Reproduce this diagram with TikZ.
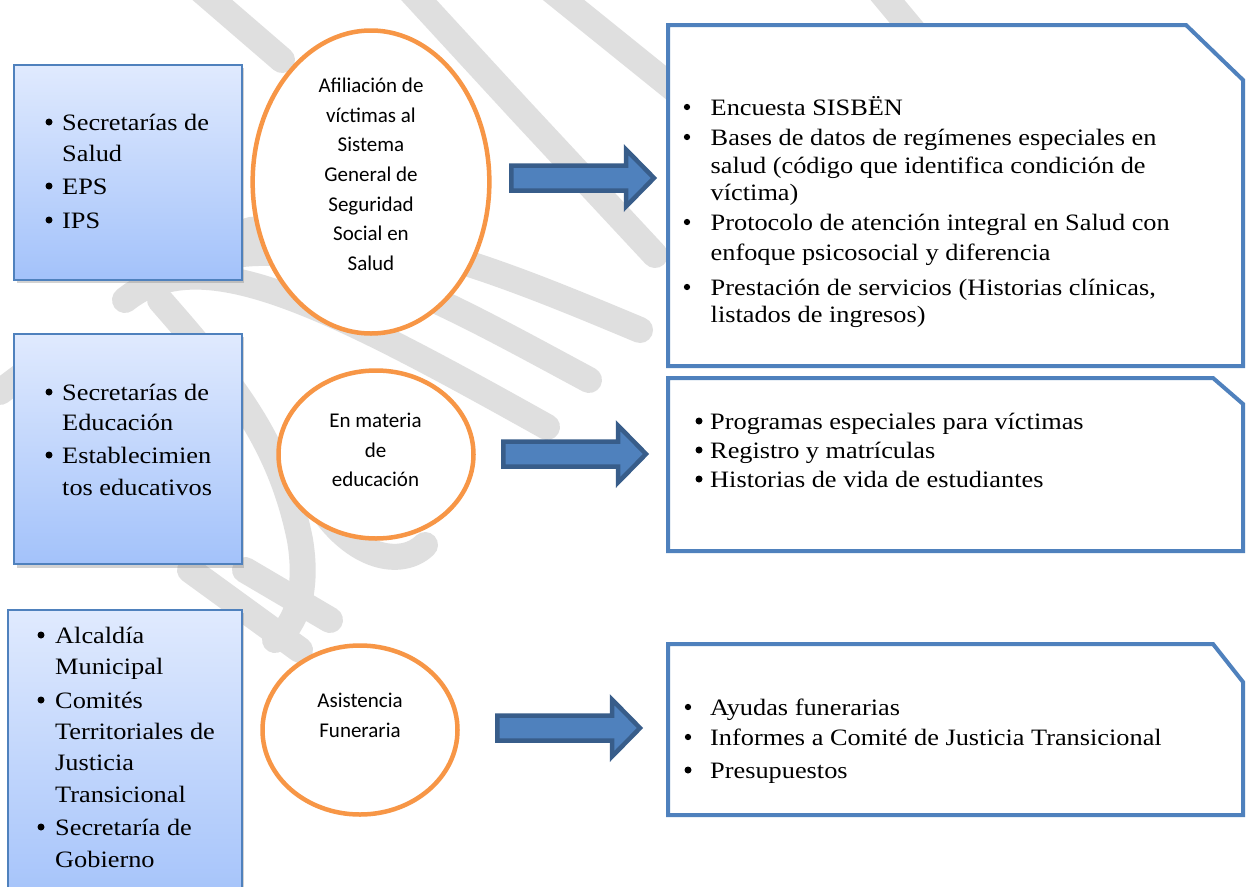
\documentclass[tikz,border=0pt]{standalone}
\usepackage{fontspec}
\usetikzlibrary{shapes.geometric,shadows}
\newfontfamily\geofont[FakeStretch=1.12]{Liberation Serif}
\newfontfamily\calibfont{Carlito}
\definecolor{bxblue}{HTML}{4F81BD}
\definecolor{arrdark}{HTML}{385D8A}
\definecolor{orng}{HTML}{F79646}
\definecolor{gtop}{RGB}{224,234,254}
\definecolor{gbot}{RGB}{163,194,250}
\definecolor{wmark}{RGB}{223,223,223}
\tikzset{
  wm/.style={draw=wmark, line width=26pt, line cap=round, line join=round},
  lbox/.style={draw=bxblue, line width=1.8pt, top color=gtop, bottom color=gbot, rectangle, inner sep=0pt, anchor=north west,
    drop shadow={shadow xshift=2.5pt, shadow yshift=-3.5pt, opacity=0.35}},
  rbox/.style={draw=bxblue, line width=4pt, fill=white, line join=miter},
  ell/.style={ellipse, draw=orng, line width=4.5pt, fill=white, inner sep=0pt},
  blockarrow/.style={fill=bxblue, draw=arrdark, line width=4.5pt, line join=miter},
  txt/.style={inner sep=0pt, anchor=base west, font=\geofont\fontsize{23.5}{28}\selectfont},
  bul/.style={circle, fill=black, inner sep=0pt, minimum size=7pt, anchor=center, xshift=4pt, yshift=8pt},
  sbul/.style={bul, minimum size=6.3pt},
  etxt/.style={inner sep=0pt, anchor=base, font=\calibfont\fontsize{21}{26}\selectfont}
}
\newcommand\blockarr[3]{% x0, x1 (tip), yc
  \path[blockarrow] (#1+2.25,#3-12.5) -- (#2-31,#3-12.5) -- (#2-31,#3-28.5) -- (#2-3,#3) -- (#2-31,#3+28.5) -- (#2-31,#3+12.5) -- (#1+2.25,#3+12.5) -- cycle;}
\begin{document}
\begin{tikzpicture}[x=1pt,y=-1pt]
\useasboundingbox (0,0) rectangle (1246,886);
\fill[white] (0,0) rectangle (1246,886);
\clip (0,0) rectangle (1246,886);

% watermark strokes
\draw[wm] (195,-15) -- (282,60);
\draw[wm] (405,-15) -- (520,110) -- (655,255);
\draw[wm] (545,-15) -- (700,110);
\draw[wm] (875,-15) -- (925,45);
\draw[wm] (0,392) -- (40,362);
\draw[wm] (125,300) .. controls (200,240) and (320,300) .. (547,427);
\draw[wm] (210,260) .. controls (320,230) and (440,300) .. (589,380);
\draw[wm] (250,230) .. controls (380,220) and (520,280) .. (640,330);
\draw[wm] (160,300) .. controls (230,380) and (280,440) .. (300,540) .. controls (310,600) and (290,630) .. (275,640);
\draw[wm] (300,470) .. controls (340,560) and (400,570) .. (425,545);
\draw[wm] (190,570) -- (300,650);
\draw[wm] (245,570) -- (330,620);

% left boxes
\node[lbox, minimum width=227.4pt, minimum height=215pt] (L1) at (13.3,64) {};
\node[lbox, minimum width=227.4pt, minimum height=230.6pt] (L2) at (13.3,332.7) {};
\node[lbox, minimum width=233.4pt, minimum height=300pt] (L3) at (7.3,609) {};

% left box 1 text
\node[bul] (b1a) at (45,130) {};
\node[txt] (t1a) at (62,130) {Secretarías de};
\node[txt] (t1b) at (62,161) {Salud};
\node[bul] (b1b) at (45,194) {};
\node[txt] (t1c) at (62,194) {EPS};
\node[bul] (b1c) at (45,228) {};
\node[txt] (t1d) at (62,228) {IPS};

% left box 2 text
\node[bul] (b2a) at (45,400) {};
\node[txt] (t2a) at (62,400) {Secretarías de};
\node[txt] (t2b) at (62,430) {Educación};
\node[bul] (b2b) at (45,463) {};
\node[txt] (t2c) at (62,463) {Establecimien};
\node[txt] (t2d) at (62,495) {tos educativos};

% left box 3 text
\node[bul] (b3a) at (37,643) {};
\node[txt] (t3a) at (55,643) {Alcaldía};
\node[txt] (t3b) at (55,674) {Municipal};
\node[bul] (b3b) at (37,708) {};
\node[txt] (t3c) at (55,708) {Comités};
\node[txt] (t3d) at (55,739) {Territoriales de};
\node[txt] (t3e) at (55,770) {Justicia};
\node[txt] (t3f) at (55,802) {Transicional};
\node[bul] (b3c) at (37,835) {};
\node[txt] (t3g) at (55,835) {Secretaría de};
\node[txt] (t3h) at (55,867) {Gobierno};

% ellipses
\node[ell, minimum width=236.7pt, minimum height=303pt] (E1) at (371,182) {};
\node[ell, minimum width=195pt, minimum height=168pt] (E2) at (376,454.5) {};
\node[ell, minimum width=195pt, minimum height=169pt] (E3) at (360,730) {};

\node[etxt] (e1a) at (371,92) {Afiliación de};
\node[etxt] (e1b) at (371,122) {víctimas al};
\node[etxt] (e1c) at (371,151) {Sistema};
\node[etxt] (e1d) at (371,181) {General de};
\node[etxt] (e1e) at (371,211) {Seguridad};
\node[etxt] (e1f) at (371,240) {Social en};
\node[etxt] (e1g) at (371,270) {Salud};

\node[etxt] (e2a) at (375.5,427) {En materia};
\node[etxt] (e2b) at (375.5,457) {de};
\node[etxt] (e2c) at (375.5,486) {educación};

\node[etxt] (e3a) at (360,707) {Asistencia};
\node[etxt] (e3b) at (360,737) {Funeraria};

% block arrows
\blockarr{509}{657}{178}
\blockarr{501}{649}{454}
\blockarr{495}{643}{728}

% right boxes
\coordinate (R1) at (668,25);
\draw[rbox] (R1) -- (1186,25) -- (1243,80) -- (1243,366) -- (668,366) -- cycle;
\coordinate (R2) at (668,378);
\draw[rbox] (R2) -- (1213,378) -- (1243,404) -- (1243,551) -- (668,551) -- cycle;
\coordinate (R3) at (668,644);
\draw[rbox] (R3) -- (1213,644) -- (1243,682) -- (1243,815) -- (668,815) -- cycle;

% right box 1 text
\node[sbul] (r1ba) at (683,115) {};
\node[txt] (r1a) at (710.5,115) {Encuesta SISBËN};
\node[sbul] (r1bb) at (683,145) {};
\node[txt] (r1b) at (710.5,145) {Bases de datos de regímenes especiales en};
\node[txt] (r1c) at (710.5,173) {salud (código que identifica condición de};
\node[txt] (r1d) at (710.5,200) {víctima)};
\node[sbul] (r1bc) at (683,230) {};
\node[txt] (r1e) at (710.5,230) {Protocolo de atención integral en Salud con};
\node[txt] (r1f) at (710.5,260) {enfoque psicosocial y diferencia};
\node[sbul] (r1bd) at (683,295) {};
\node[txt] (r1g) at (710.5,295) {Prestación de servicios (Historias clínicas,};
\node[txt] (r1h) at (710.5,322) {listados de ingresos)};

% right box 2 text
\node[bul] (r2ba) at (695,429) {};
\node[txt] (r2a) at (710,429) {Programas especiales para víctimas};
\node[bul] (r2bb) at (695,458) {};
\node[txt] (r2b) at (710,458) {Registro y matrículas};
\node[bul] (r2bc) at (695,487) {};
\node[txt] (r2c) at (710,487) {Historias de vida de estudiantes};

% right box 3 text
\node[sbul] (r3ba) at (684,715) {};
\node[txt] (r3a) at (710,715) {Ayudas funerarias};
\node[sbul] (r3bb) at (684,745) {};
\node[txt] (r3b) at (710,745) {Informes a Comité de Justicia Transicional};
\node[bul] (r3bc) at (684,778) {};
\node[txt] (r3c) at (710,778) {Presupuestos};
\end{tikzpicture}
\end{document}
